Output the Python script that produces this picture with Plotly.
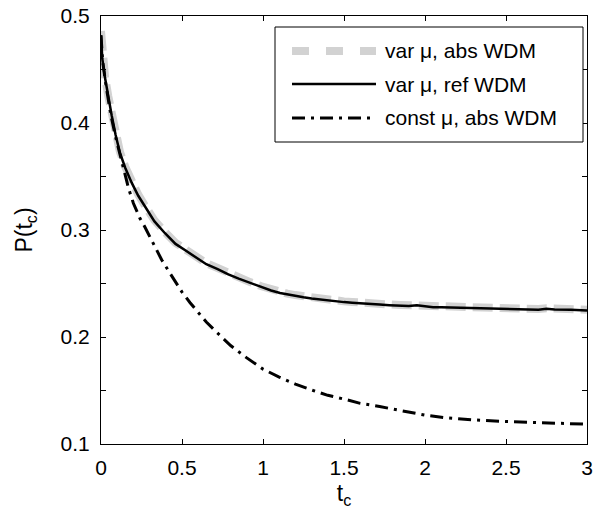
import plotly.graph_objects as go

# ---- data ----
t_var = [0, 0.008, 0.025, 0.045, 0.066, 0.09, 0.117, 0.15, 0.19, 0.23, 0.27, 0.33,
         0.395, 0.46, 0.52, 0.58, 0.65, 0.72, 0.786, 0.85, 0.92, 0.99, 1.05, 1.105,
         1.15, 1.2, 1.25, 1.3, 1.35, 1.4, 1.45, 1.5, 1.55, 1.6, 1.65, 1.72, 1.78,
         1.85, 1.9, 1.95, 2.0, 2.05, 2.1, 2.2, 2.3, 2.4, 2.5, 2.6, 2.7, 2.75, 2.8,
         2.9, 3.0]
p_var_ref = [0.482, 0.460, 0.442, 0.424, 0.407, 0.389, 0.372, 0.358, 0.344, 0.332,
             0.322, 0.308, 0.297, 0.287, 0.281, 0.275, 0.268, 0.2635, 0.2585, 0.2545,
             0.2505, 0.2465, 0.2435, 0.2412, 0.2398, 0.2385, 0.2372, 0.2360, 0.2350,
             0.2340, 0.2333, 0.2326, 0.2320, 0.2313, 0.2308, 0.2303, 0.2297, 0.2292,
             0.2289, 0.2297, 0.2284, 0.2278, 0.2279, 0.2274, 0.2268, 0.2266, 0.2263,
             0.2260, 0.2254, 0.2264, 0.2258, 0.2255, 0.2247]
p_var_abs = [0.486, 0.462, 0.443, 0.425, 0.408, 0.390, 0.373, 0.359, 0.345, 0.333,
             0.323, 0.309, 0.298, 0.288, 0.282, 0.276, 0.269, 0.2645, 0.2595, 0.2553,
             0.2513, 0.2474, 0.2444, 0.2421, 0.2406, 0.2392, 0.2380, 0.2368, 0.2357,
             0.2348, 0.2340, 0.2333, 0.2328, 0.2320, 0.2315, 0.2310, 0.2304, 0.2299,
             0.2296, 0.2302, 0.2291, 0.2285, 0.2285, 0.2280, 0.2275, 0.2272, 0.2269,
             0.2266, 0.2261, 0.2268, 0.2264, 0.2261, 0.2255]

t_const = [0, 0.01, 0.03, 0.06, 0.09, 0.12, 0.15, 0.17, 0.2, 0.24, 0.27, 0.3, 0.34,
           0.375, 0.42, 0.46, 0.5, 0.55, 0.6, 0.65, 0.7, 0.75, 0.8, 0.9, 1.0, 1.1,
           1.2, 1.31, 1.4, 1.5, 1.6, 1.72, 1.85, 2.0, 2.13, 2.3, 2.5, 2.7, 2.96, 3.0]
p_const_abs = [0.482, 0.458, 0.436, 0.408, 0.387, 0.368, 0.350, 0.339, 0.325, 0.311,
               0.303, 0.294, 0.282, 0.272, 0.261, 0.251, 0.242, 0.232, 0.2225, 0.214,
               0.2065, 0.199, 0.192, 0.1805, 0.170, 0.1625, 0.156, 0.150, 0.1455,
               0.142, 0.138, 0.135, 0.131, 0.127, 0.1245, 0.1225, 0.121, 0.1198,
               0.1187, 0.1185]

x_ticks = [0, 0.5, 1, 1.5, 2, 2.5, 3]
x_ticktext = ["0", "0.5", "1", "1.5", "2", "2.5", "3"]
y_ticks = [0.1, 0.2, 0.3, 0.4, 0.5]
y_ticktext = ["0.1", "0.2", "0.3", "0.4", "0.5"]
y_minor = [0.15, 0.25, 0.35, 0.45]

names = ["var \u03bc, abs WDM", "var \u03bc, ref WDM", "const \u03bc, abs WDM"]

# ---- layout geometry (page pixels) ----
W, H = 600, 519
PL, PR, PT, PB = 101, 587, 16, 444          # plot frame
L, T, R, B = PL, PT, W - PR, H - PB
pw, ph = PR - PL, PB - PT

def px(x):
    return (x - PL) / pw

def py(y):
    return (PB - y) / ph

FONT = "Liberation Sans, Arial, sans-serif"
gray = "#d2d2d2"
gray_dash = "20px,7px"
dd_dash = "13px,6px,3px,6px"

fig = go.Figure()
fig.add_trace(go.Scatter(x=t_var, y=p_var_abs, mode="lines", name=names[0],
                         line=dict(color=gray, width=8, dash=gray_dash),
                         showlegend=False))
fig.add_trace(go.Scatter(x=t_var, y=p_var_ref, mode="lines", name=names[1],
                         line=dict(color="black", width=2.5),
                         showlegend=False))
fig.add_trace(go.Scatter(x=t_const, y=p_const_abs, mode="lines", name=names[2],
                         line=dict(color="black", width=3, dash=dd_dash),
                         showlegend=False))

# manual legend (MATLAB style)
shapes = [dict(type="rect", xref="paper", yref="paper",
               x0=px(275), x1=px(583), y0=py(142), y1=py(27),
               line=dict(color="black", width=1), fillcolor="white", layer="above")]
rows = [51, 84, 118]
styles = [dict(color=gray, width=8, dash="17px,17px"),
          dict(color="black", width=2.5),
          dict(color="black", width=3, dash=dd_dash)]
annotations = []
for r, st, nm in zip(rows, styles, names):
    shapes.append(dict(type="line", xref="paper", yref="paper",
                       x0=px(292), x1=px(376), y0=py(r), y1=py(r),
                       line=st, layer="above"))
    annotations.append(dict(xref="paper", yref="paper", x=px(383), y=py(r),
                            xanchor="left", yanchor="middle", text=nm,
                            showarrow=False,
                            font=dict(family=FONT, size=21, color="black")))

axis_common = dict(showline=True, linecolor="black", linewidth=1, mirror="ticks",
                   ticks="inside", ticklen=5, tickwidth=1, tickcolor="black",
                   showgrid=False, zeroline=False, ticklabeloverflow="allow",
                   automargin=False,
                   tickfont=dict(family=FONT, size=21, color="black"))

fig.update_layout(
    width=W, height=H, autosize=False,
    margin=dict(l=L, r=R, t=T, b=B, autoexpand=False),
    paper_bgcolor="white", plot_bgcolor="white",
    font=dict(family=FONT, size=21, color="black"),
    xaxis=dict(range=[0, 3], tickvals=x_ticks, ticktext=x_ticktext,
               title=dict(text="t<sub>c</sub>", standoff=6,
                          font=dict(family=FONT, size=23)),
               ticklabelstandoff=5, **axis_common),
    yaxis=dict(range=[0.1, 0.5], tickvals=y_ticks, ticktext=y_ticktext,
               minor=dict(tickvals=y_minor, ticks="inside",
                          ticklen=5, tickwidth=1, tickcolor="black"),
               title=dict(text="P(t<sub>c</sub>)", standoff=21,
                          font=dict(family=FONT, size=23)),
               ticklabelstandoff=6, **axis_common),
    shapes=shapes, annotations=annotations,
)

fig.write_html("out.html",
               config={"displayModeBar": False},
               post_script="document.body.style.margin='0';"
                           "document.body.style.overflow='hidden';")
